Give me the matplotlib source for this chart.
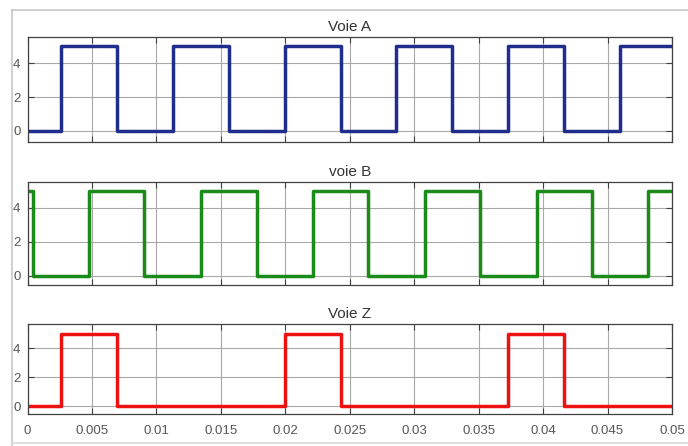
import matplotlib.pyplot as plt
from matplotlib.lines import Line2D

# transition times (s), level 0/5 V
t_end = 0.05
a_edges = [0.0026, 0.00694, 0.01125, 0.01563, 0.01994, 0.02432, 0.02862,
           0.03295, 0.03730, 0.04163, 0.04597]
a_start = 0
b_edges = [0.00043, 0.00477, 0.00907, 0.01346, 0.01778, 0.02212, 0.02645,
           0.03084, 0.03512, 0.03950, 0.04382, 0.04816]
b_start = 5
z_edges = [0.0026, 0.00697, 0.01998, 0.02432, 0.03730, 0.04165]
z_start = 0

titles = ["Voie A", "voie B", "Voie Z"]
colors = ["#1f2d8c", "#1a8a1a", "#ee1111"]
xticks = [0, 0.005, 0.01, 0.015, 0.02, 0.025, 0.03, 0.035, 0.04, 0.045, 0.05]
xticklabels = ["0", "0.005", "0.01", "0.015", "0.02", "0.025", "0.03",
               "0.035", "0.04", "0.045", "0.05"]
yticks = [0, 2, 4]


def square_wave(edges, start, high=5):
    t = [0]
    v = [start]
    level = start
    for e in edges:
        t += [e, e]
        v += [level, high - level]
        level = high - level
    t.append(t_end)
    v.append(level)
    return t, v


plt.rcParams['font.family'] = ['Liberation Sans', 'DejaVu Sans']

fig = plt.figure(figsize=(6.88, 4.46), dpi=100)
W, H = 688, 446
# axes boxes in pixels: (top, bottom)
boxes = [(37, 142), (182, 285), (324, 414)]
left, right = 27.5, 672
ylims = [(-0.65, 5.55), (-0.55, 5.5), (-0.55, 5.7)]

signals = [(a_edges, a_start), (b_edges, b_start), (z_edges, z_start)]

for i, ((top, bot), (edges, start)) in enumerate(zip(boxes, signals)):
    ax = fig.add_axes([left / W, 1 - bot / H, (right - left) / W, (bot - top) / H])
    t, v = square_wave(edges, start)
    ax.plot(t, v, color=colors[i], lw=2.5, solid_joinstyle='round')
    ax.set_xlim(0, t_end)
    ax.set_ylim(*ylims[i])
    ax.set_xticks(xticks)
    ax.set_yticks(yticks)
    if i == 2:
        ax.set_xticklabels(xticklabels)
    else:
        ax.set_xticklabels([])
    ax.grid(True, color='#a8a8a8', lw=0.8)
    ax.tick_params(direction='in', top=True, right=True, length=4,
                   colors='#404040', labelcolor='#555555', labelsize=9.5,
                   width=0.8)
    ax.tick_params(axis='x', pad=8)
    ax.tick_params(axis='y', pad=5)
    for s in ax.spines.values():
        s.set_color('#404040')
        s.set_linewidth(0.9)
    ax.set_title(titles[i], fontsize=11, color='#333333', pad=4)

# scope window frame
fig.add_artist(Line2D([12 / W, 12 / W], [0, 1 - 10 / H], color='#c8c8c8', lw=1.2))
fig.add_artist(Line2D([12 / W, 1], [1 - 10 / H, 1 - 10 / H], color='#c8c8c8', lw=1.2))
fig.add_artist(Line2D([12 / W, 1], [1 - 443 / H, 1 - 443 / H], color='#d8d8d8', lw=1.2))

fig.savefig("out.png", dpi=100)
